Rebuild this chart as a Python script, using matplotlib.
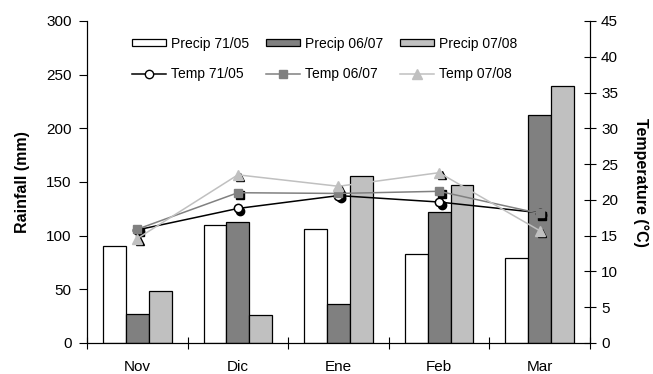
import numpy as np
import matplotlib.pyplot as plt
import matplotlib.transforms as mtransforms
from matplotlib.patches import Patch
from matplotlib.lines import Line2D

plt.rcParams['font.family'] = ['Liberation Sans', 'DejaVu Sans']

# data
months = ["Nov", "Dic", "Ene", "Feb", "Mar"]
precip_7105 = [90, 110, 106, 83, 79]
precip_0607 = [27, 113, 36, 122, 212]
precip_0708 = [48, 26, 156, 147, 239]
temp_7105 = [15.8, 18.8, 20.6, 19.7, 18.2]
temp_0607 = [15.9, 21.0, 20.9, 21.2, 18.1]
temp_0708 = [14.6, 23.5, 21.9, 23.8, 15.7]

c_dark = '#808080'
c_light = '#c0c0c0'

fig = plt.figure(figsize=(6.53, 3.74), dpi=100)
ax = fig.add_axes([0.1332, 0.0829, 0.7703, 0.861])
ax2 = ax.twinx()

x = np.arange(len(months)) + 0.5
w = 0.227
ax.bar(x - w, precip_7105, w, color='white', edgecolor='black', lw=0.9, zorder=2)
ax.bar(x, precip_0607, w, color=c_dark, edgecolor='black', lw=0.9, zorder=2)
ax.bar(x + w, precip_0708, w, color=c_light, edgecolor='black', lw=0.9, zorder=2)

ax.set_xlim(0, 5)
ax.set_ylim(0, 300)
ax.set_yticks(np.arange(0, 301, 50))
ax.set_xticks(np.arange(0, 6))
ax.set_xticklabels([])
ax.set_xticks(x, minor=True)
ax.set_xticklabels(months, minor=True)
ax.tick_params(axis='x', which='major', direction='inout', length=8, width=0.8)
ax.tick_params(axis='x', which='minor', length=0, pad=12, labelsize=11)
ax.tick_params(axis='y', direction='out', length=6, width=0.8, labelsize=11, pad=5)
ax.spines['top'].set_visible(False)
ax.set_ylabel("Rainfall (mm)", fontsize=11.5, fontweight='bold', labelpad=12)

# temperature lines on the right axis (black shadow markers under each point)
ax2.set_zorder(ax.get_zorder() + 1)
ax2.patch.set_visible(False)
shadow = ax2.transData + mtransforms.ScaledTranslation(2.5 / 100, -2.5 / 100, fig.dpi_scale_trans)
for temps, mk in [(temp_7105, 'o'), (temp_0607, 's'), (temp_0708, '^')]:
    ax2.plot(x, temps, ls='none', marker=mk, ms=6, color='black', transform=shadow, zorder=3)
ax2.plot(x, temp_7105, '-', color='black', lw=1.1, marker='o', ms=6, mfc='white', mec='black', mew=1.1, zorder=4)
ax2.plot(x, temp_0607, '-', color=c_dark, lw=1.1, marker='s', ms=6, mfc=c_dark, mec=c_dark, zorder=4)
ax2.plot(x, temp_0708, '-', color=c_light, lw=1.1, marker='^', ms=6.5, mfc=c_light, mec=c_light, zorder=4)

ax2.set_ylim(0, 45)
ax2.set_yticks(np.arange(0, 46, 5))
ax2.tick_params(axis='y', direction='inout', length=8, width=0.8, labelsize=11, pad=4)
ax2.spines['top'].set_visible(False)
ax2.set_ylabel("Temperature (°C)", fontsize=11.5, fontweight='bold', rotation=270, labelpad=22)

handles = [
    Patch(facecolor='white', edgecolor='black', lw=0.9),
    Line2D([], [], color='black', lw=1.1, marker='o', ms=6, mfc='white', mec='black'),
    Patch(facecolor=c_dark, edgecolor='black', lw=0.9),
    Line2D([], [], color=c_dark, lw=1.1, marker='s', ms=6, mfc=c_dark, mec=c_dark),
    Patch(facecolor=c_light, edgecolor='black', lw=0.9),
    Line2D([], [], color=c_light, lw=1.1, marker='^', ms=6.5, mfc=c_light, mec=c_light),
]
labels = ["Precip 71/05", "Temp 71/05", "Precip 06/07", "Temp 06/07", "Precip 07/08", "Temp 07/08"]
fig.legend(handles, labels, ncol=3, loc='upper center', bbox_to_anchor=(0.497, 0.935),
           frameon=False, fontsize=10, handlelength=2.45, handleheight=0.4,
           handletextpad=0.35, columnspacing=1.2, labelspacing=1.15)

fig.savefig('out.png', dpi=100)
